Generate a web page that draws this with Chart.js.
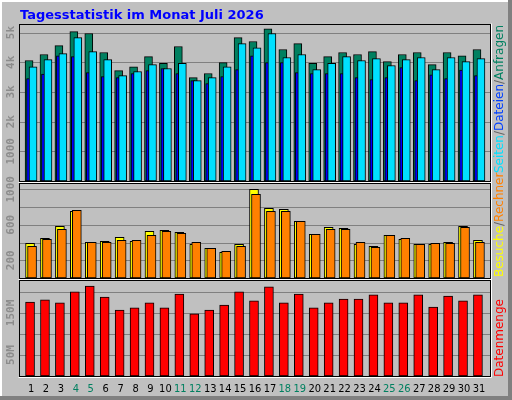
<!DOCTYPE html>
<html>
<head>
<meta charset="utf-8">
<script src="https://cdn.jsdelivr.net/npm/chart.js@4"></script>
<style>
  body { margin: 0; background: #fff; }
  #wrap { position: relative; width: 512px; height: 400px; background: #c0c0c0; }
  #wrap canvas { position: absolute; left: 0; top: 0; }
</style>
</head>
<body>
<div id="wrap">
  <canvas id="bg" width="512" height="400"></canvas>
  <canvas id="top" width="512" height="400"></canvas>
  <canvas id="mid" width="512" height="400"></canvas>
  <canvas id="bot" width="512" height="400"></canvas>
</div>
<script>
const days = [1,2,3,4,5,6,7,8,9,10,11,12,13,14,15,16,17,18,19,20,21,22,23,24,25,26,27,28,29,30,31];
const weekend = [4,5,11,12,18,19,25,26];

const anfragen = [4060,4260,4560,5030,4970,4330,3720,3850,4190,3960,4530,3480,3620,3990,4830,4700,5130,4430,4630,3960,4190,4330,4260,4360,4020,4260,4330,3920,4330,4220,4430];
const dateien  = [3850,4090,4290,4830,4360,4090,3550,3690,3920,3790,3960,3380,3480,3850,4630,4490,4970,4160,4260,3750,3960,4190,4060,4120,3890,4090,4160,3750,4160,4020,4120];
const seiten   = [3450,3600,4220,4190,3650,3520,3480,3620,3720,3790,3620,3380,3280,3520,3750,4220,3990,3990,3650,3620,3620,3620,3480,3420,3480,3820,3380,3580,3450,3740,3550];
const besuche  = [391,447,583,752,402,414,459,414,526,538,515,380,335,289,380,1000,786,774,639,492,571,560,380,357,481,436,380,380,402,583,425];
const rechner  = [357,436,549,763,402,402,425,425,481,526,504,402,335,301,357,944,752,752,639,492,549,549,402,346,481,447,380,391,391,571,402];
const datenmengeM = [176,181,174,200,214,188,157,162,174,162,195,148,157,169,200,179,212,174,195,162,174,183,183,193,174,174,193,164,190,179,193];

const topTicks = [[1000,'1000'],[2000,'2k'],[3000,'3k'],[4000,'4k'],[5000,'5k']];
const midTicks = [[200,'200'],[600,'600'],[1000,'1000']];
const botTicks = [[50,'50M'],[150,'150M']];
const midGrid = [200,400,600,800,1000];
const botGrid = [50,100,150,200];

const PX_PER_DAY = 14.93;
const X_MIN = 0.26, X_MAX = 31.74;
const LEFT = 20, RIGHT = 490;

// background, frame, title and side labels
(function () {
  const c = document.getElementById('bg').getContext('2d');
  c.fillStyle = '#c0c0c0'; c.fillRect(0, 0, 512, 400);
  c.fillStyle = '#ffffff'; c.fillRect(0, 0, 512, 2); c.fillRect(0, 0, 2, 400);
  c.fillStyle = '#808080'; c.fillRect(0, 396, 512, 4); c.fillRect(508, 0, 4, 400);
  c.font = 'bold 13px "DejaVu Sans"'; c.fillStyle = '#0000ff';
  c.textBaseline = 'alphabetic';
  c.fillText('Tagesstatistik im Monat Juli 2026', 20, 19);

  function vtext(parts, x, y, align) {
    c.save(); c.translate(x, y); c.rotate(-Math.PI / 2);
    c.font = '12px "DejaVu Sans"'; c.textBaseline = 'middle';
    let w = parts.reduce((s, p) => s + c.measureText(p[0]).width, 0);
    let pos = align === 'end' ? -w : 0;
    parts.forEach(p => { c.fillStyle = p[1]; c.fillText(p[0], pos, 0); pos += c.measureText(p[0]).width; });
    c.restore();
  }
  vtext([['Besuche', '#ffff00'], ['/', '#606060'], ['Rechner', '#ff8000']], 500, 277, 'start');
  vtext([['Seiten', '#00e0ff'], ['/', '#606060'], ['Dateien', '#0040ff'], ['/', '#606060'], ['Anfragen', '#008060']], 500, 25, 'end');
  vtext([['Datenmenge', '#ff0000']], 500, 377, 'start');

  c.font = '11px "DejaVu Sans Condensed", "DejaVu Sans"'; c.textAlign = 'center'; c.textBaseline = 'middle';
  days.forEach(d => {
    c.fillStyle = weekend.includes(d) ? '#008060' : '#000000';
    c.fillText(String(d), LEFT + (d - X_MIN) * (RIGHT - LEFT) / (X_MAX - X_MIN), 389);
  });
})();

function panelPlugin(ticks, grid) {
  return {
    id: 'panel',
    beforeDatasetsDraw(chart) {
      const c = chart.ctx, a = chart.chartArea, y = chart.scales.y;
      c.save();
      c.strokeStyle = '#808080'; c.lineWidth = 1;
      grid.forEach(v => {
        const py = Math.round(y.getPixelForValue(v)) + 0.5;
        c.beginPath(); c.moveTo(a.left, py); c.lineTo(a.right, py); c.stroke();
      });
      c.restore();
    },
    afterDraw(chart) {
      const c = chart.ctx, a = chart.chartArea, y = chart.scales.y;
      c.save();
      c.strokeStyle = '#000'; c.lineWidth = 1;
      c.strokeRect(a.left - 0.5, a.top - 0.5, a.right - a.left + 1, a.bottom - a.top + 1);
      c.strokeStyle = '#fff';
      c.beginPath(); c.moveTo(a.left - 1.5, a.bottom + 1.5); c.lineTo(a.right + 1.5, a.bottom + 1.5); c.lineTo(a.right + 1.5, a.top - 1.5); c.stroke();
      c.font = 'bold 11px "DejaVu Sans Mono"'; c.fillStyle = '#8c8c8c';
      c.textAlign = 'center'; c.textBaseline = 'middle';
      ticks.forEach(t => {
        c.save(); c.translate(11, y.getPixelForValue(t[0])); c.rotate(-Math.PI / 2);
        c.fillText(t[1], 0, 0); c.restore();
      });
      c.restore();
    }
  };
}

function series(values, offPx, color, width, order) {
  return {
    data: values.map((v, i) => ({ x: days[i] + offPx / PX_PER_DAY, y: v })),
    backgroundColor: color, borderColor: '#000', borderWidth: 1,
    borderSkipped: false, barThickness: width, order: order, grouped: false
  };
}

function makeChart(id, top, bottom, yMax, datasets, ticks, grid) {
  return new Chart(document.getElementById(id), {
    type: 'bar',
    data: { datasets: datasets },
    options: {
      responsive: false, animation: false, devicePixelRatio: 1,
      layout: { padding: { left: LEFT, right: 512 - RIGHT, top: top, bottom: 400 - bottom } },
      scales: {
        x: { type: 'linear', display: false, min: X_MIN, max: X_MAX, offset: false },
        y: { display: false, min: 0, max: yMax }
      },
      plugins: { legend: { display: false }, tooltip: { enabled: false } }
    },
    plugins: [panelPlugin(ticks, grid)]
  });
}

makeChart('top', 25, 181, 5255, [
  series(anfragen, -2, '#008060', 8, 2),
  series(seiten, -2.5, '#0000ff', 4, 1),
  series(dateien, 2, '#00e0ff', 8, 0)
], topTicks, [1000,2000,3000,4000,5000]);

makeChart('mid', 184, 278, 1060, [
  series(besuche, -1, '#ffff00', 9, 1),
  series(rechner, 1, '#ff8000', 9, 0)
], midTicks, midGrid);

makeChart('bot', 281, 376, 226, [
  series(datenmengeM, -1, '#ff0000', 9, 0)
], botTicks, botGrid);
</script>
</body>
</html>
